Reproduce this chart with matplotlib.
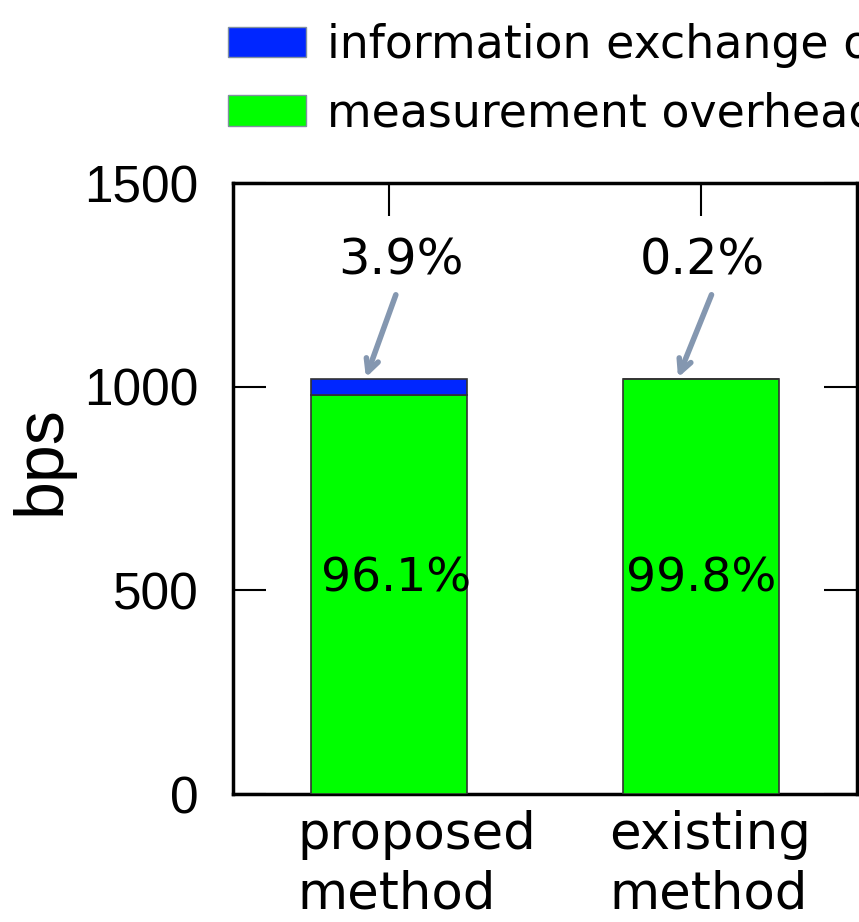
import matplotlib.pyplot as plt
from matplotlib.patches import Patch
from matplotlib.transforms import blended_transform_factory

# bar data (bps)
methods = ['proposed\nmethod', 'existing\nmethod']
measurement = [980, 1018]
info_exchange = [40, 2]
top_pct = ['3.9%', '0.2%']
bottom_pct = ['96.1%', '99.8%']

green = '#00ff00'
blue = '#0026ff'
arrow_col = '#8497b0'

fig = plt.figure(figsize=(8.59, 9.22), dpi=100)
ax = fig.add_axes([0.2712, 0.1388, 0.7265, 0.6627])

x = [0, 1]
ax.bar(x, measurement, width=0.5, color=green, edgecolor='#333333', linewidth=1.2, zorder=3)
ax.bar(x, info_exchange, width=0.5, bottom=measurement, color=blue,
       edgecolor='#333333', linewidth=1.2, zorder=3)

ax.set_xlim(-0.5, 1.5)
ax.set_ylim(0, 1500)
ax.set_yticks([0, 500, 1000, 1500])
ax.set_xticks(x)
ax.set_xticklabels([])
for lab in ax.get_yticklabels():
    lab.set_fontfamily('Liberation Sans')
    lab.set_fontsize(37)
ax.tick_params(axis='y', direction='in', length=24, width=1.5, right=True, pad=25)
ax.tick_params(axis='x', direction='in', length=24, width=1.5, top=True, bottom=False)
for s in ax.spines.values():
    s.set_linewidth(2.5)

# category labels, left aligned under each bar
trans = blended_transform_factory(ax.transData, ax.transAxes)
for i in range(2):
    ax.text(x[i] - 0.294, -0.026, methods[i], transform=trans, fontsize=37,
            ha='left', va='top', linespacing=1.24, clip_on=False)

ax.set_ylabel('bps', fontsize=49, family='Liberation Sans')
ax.yaxis.set_label_coords(-0.255, 0.547)

# percentages
top_dx = [0.037, 0.003]
bottom_dx = [0.022, 0.0]
for i in range(2):
    total = measurement[i] + info_exchange[i]
    ax.text(x[i] + top_dx[i], 1309, top_pct[i], fontsize=35.5, ha='center', va='center')
    ax.annotate('', xy=(x[i] - 0.077, total - 4), xytext=(x[i] + 0.025 + 0.012 * i, 1232),
                arrowprops=dict(arrowstyle='->,head_length=0.9,head_width=0.45',
                                color=arrow_col, lw=4), zorder=5)
    ax.text(x[i] + bottom_dx[i], 529, bottom_pct[i], fontsize=34, ha='center', va='center', zorder=4)

handles = [Patch(facecolor=blue, edgecolor='#8090a0'),
           Patch(facecolor=green, edgecolor='#8090a0')]
fig.legend(handles, ['information exchange overhead', 'measurement overhead'],
           loc='upper left', bbox_to_anchor=(228 / 859, 1 - 23 / 922),
           frameon=False, fontsize=33, handlelength=1.7, handleheight=0.65,
           handletextpad=0.45, labelspacing=0.52, borderpad=0, borderaxespad=0)

fig.savefig('out.png', dpi=100)
